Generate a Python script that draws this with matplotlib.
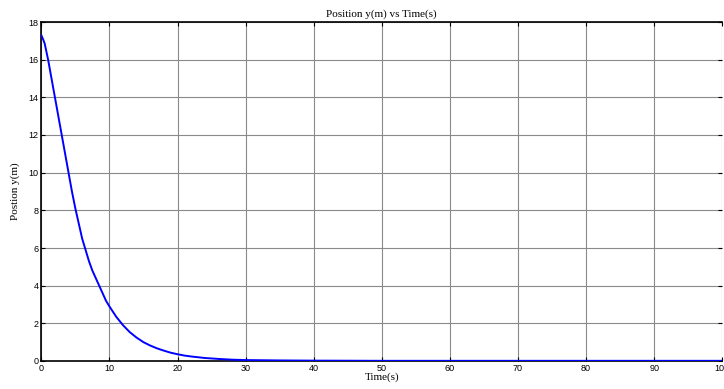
import matplotlib
matplotlib.use('Agg')
import matplotlib.pyplot as plt

# 读图得到的数据点
time_s = [0, 0.3, 0.5, 1, 1.5, 2, 2.5, 3, 3.5, 4, 4.5, 5, 5.5, 6, 6.5, 7,
          7.5, 8, 8.5, 9, 9.5, 10, 11, 12, 13, 14, 15, 16, 17, 18, 19, 20,
          21, 22, 24, 26, 28, 30, 35, 40, 50, 60, 70, 80, 90, 100]
pos_y = [17.3, 17.05, 16.85, 16.0, 15.0, 14.0, 13.0, 12.0, 11.0, 10.0, 9.0,
         8.1, 7.3, 6.5, 5.9, 5.3, 4.8, 4.4, 4.0, 3.6, 3.2, 2.9, 2.35, 1.9,
         1.53, 1.24, 1.0, 0.82, 0.67, 0.55, 0.44, 0.36, 0.29, 0.24, 0.16,
         0.11, 0.07, 0.05, 0.03, 0.02, 0.01, 0.01, 0.01, 0.01, 0.01, 0.01]
x_ticks = list(range(0, 101, 10))
y_ticks = list(range(0, 19, 2))

tick_font = 'Liberation Sans'
serif_font = 'Liberation Serif'

fig = plt.figure(figsize=(7.24, 3.89), dpi=100)
ax = fig.add_axes([41.3 / 724, 28 / 389, 681 / 724, 339 / 389])

ax.plot(time_s, pos_y, color='#0000ff', linewidth=1.4, zorder=3)

ax.set_xlim(0, 100)
ax.set_ylim(0, 18)
ax.set_xticks(x_ticks)
ax.set_yticks(y_ticks)
ax.grid(True, color='#8a8a8a', linewidth=0.8, linestyle='-')

ax.tick_params(direction='in', length=3, width=0.8, top=True, right=True,
               labelsize=6.5, pad=2)
for lab in ax.get_xticklabels() + ax.get_yticklabels():
    lab.set_family(tick_font)

for side in ['left', 'bottom', 'top']:
    ax.spines[side].set_linewidth(1.2)
    ax.spines[side].set_color('black')
# 右边框在原图中被裁掉了
ax.spines['right'].set_visible(False)

ax.set_title('Position y(m) vs Time(s)', family=serif_font, fontsize=8, pad=4)
ax.set_xlabel('Time(s)', family=serif_font, fontsize=8, labelpad=0)
ax.set_ylabel('Postion y(m)', family=serif_font, fontsize=8, labelpad=6)

fig.savefig('out.png', dpi=100)
